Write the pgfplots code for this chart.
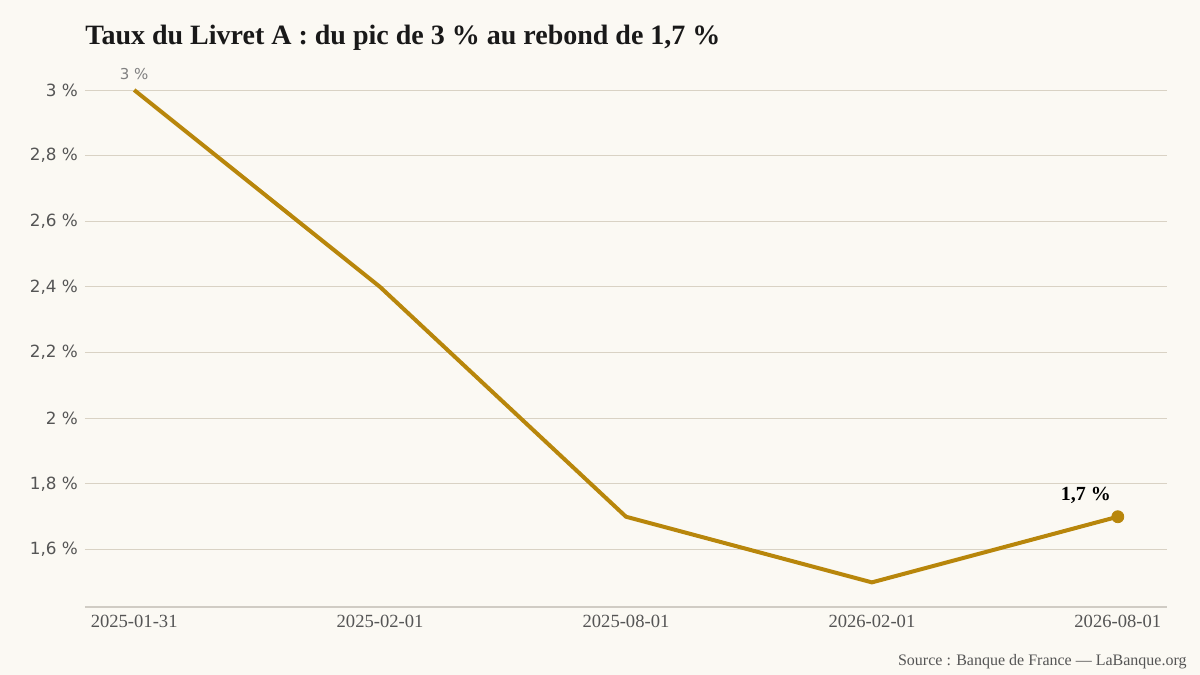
\documentclass[border=0pt]{standalone}
\usepackage{pgfplots}
\pgfplotsset{compat=1.18}
\usepackage{fontspec}
\setmainfont{Liberation Serif}
\newfontfamily\sansf{DejaVu Sans}
\definecolor{bg}{HTML}{FBF9F3}
\definecolor{gold}{HTML}{B8860B}
\definecolor{gridc}{HTML}{D9D2C4}
\definecolor{axc}{HTML}{D0CCC4}
\definecolor{tickc}{HTML}{555555}
\begin{document}
\begin{tikzpicture}
\fill[bg] (-42.5pt,-34pt) rectangle (557.5pt,303.5pt);
\begin{axis}[
  scale only axis, width=541pt, height=270.8pt,
  xmin=-0.2, xmax=4.2, ymin=1.425, ymax=3.075,
  axis x line*=bottom, axis y line*=left,
  x axis line style={draw=axc, line width=0.6pt, -},
  y axis line style={draw=none},
  major tick length=0pt,
  xtick={0,1,2,3,4},
  xticklabels={2025-01-31,2025-02-01,2025-08-01,2026-02-01,2026-08-01},
  ytick={1.6,1.8,2,2.2,2.4,2.6,2.8,3},
  yticklabels={{1,6 \%},{1,8 \%},{2 \%},{2,2 \%},{2,4 \%},{2,6 \%},{2,8 \%},{3 \%}},
  ymajorgrids, grid style={draw=gridc, line width=0.5pt},
  xticklabel style={font=\fontsize{9.3pt}{11pt}\selectfont, text=tickc, yshift=-0.5pt},
  yticklabel style={font=\sansf\fontsize{8.4pt}{10pt}\selectfont, text=tickc},
  clip=false,
]
\addplot[gold, line width=2pt, line join=round] coordinates {(0,3) (1,2.4) (2,1.7) (3,1.5) (4,1.7)};
\addplot[only marks, mark=*, mark size=3pt, gold] coordinates {(4,1.7)};
\node[font=\sansf\fontsize{7.5pt}{9pt}\selectfont, text=gray] at (axis cs:0,3) [yshift=8pt] {3 \%};
\node[font=\bfseries\fontsize{10pt}{12pt}\selectfont, text=black] at (axis cs:4,1.7) [xshift=-16pt, yshift=10.5pt] {1,7 \%};
\end{axis}
\node[anchor=base west, inner sep=0pt, font=\bfseries\fontsize{14pt}{16pt}\selectfont, text=black!90] at (0pt,281pt) {Taux du Livret A : du pic de 3 \% au rebond de 1,7 \%};
\node[anchor=base east, font=\fontsize{8pt}{9pt}\selectfont, text=tickc, inner sep=0pt] at (551pt,-29pt) {Source : Banque de France — LaBanque.org};
\pgfresetboundingbox
\path (-42.5pt,-34pt) rectangle (557.5pt,303.5pt);
\end{tikzpicture}
\end{document}
